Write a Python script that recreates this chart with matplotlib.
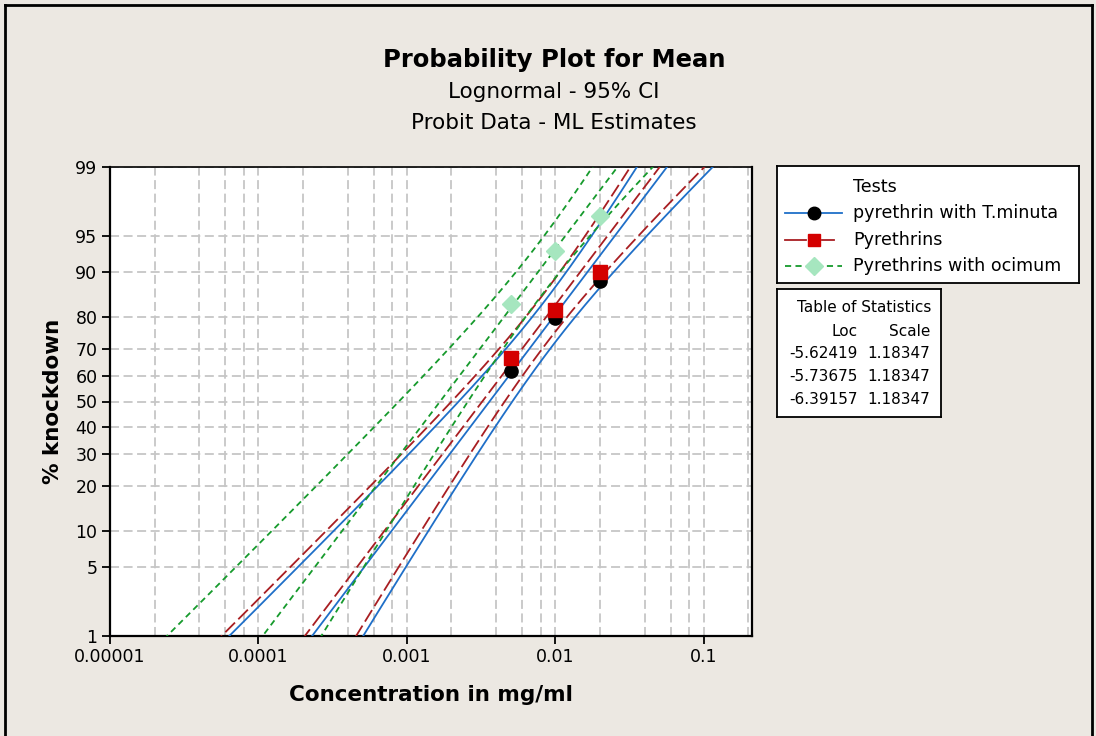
import numpy as np
import matplotlib
matplotlib.use('Agg')
import matplotlib.pyplot as plt
from matplotlib.lines import Line2D
from matplotlib.ticker import NullLocator, FixedLocator
from statistics import NormalDist

# observed knockdown (%) at each concentration (mg/ml)
conc = [0.005, 0.01, 0.02]
pct_minuta = [61.9, 79.6, 88.4]
pct_pyr = [66.7, 81.8, 90.0]
pct_ocimum = [83.3, 93.2, 96.7]

# Table of Statistics (lognormal, ln units)
locs = [-5.62419, -5.73675, -6.39157]
scales = [1.18347, 1.18347, 1.18347]
names = ['pyrethrin with T.minuta', 'Pyrethrins', 'Pyrethrins with ocimum']

# fiducial band shape (log10 units)
ci_centre = [0.0092, 0.0085, 0.0079]
ci_half = [0.140, 0.135, 0.143]
ci_g = 0.0625

yticks = [1, 5, 10, 20, 30, 40, 50, 60, 70, 80, 90, 95, 99]
xticks = [1e-5, 1e-4, 1e-3, 1e-2, 1e-1]
xticklabels = ['0.00001', '0.0001', '0.001', '0.01', '0.1']

colors = ['#1f6fc8', '#a81e22', '#169a2c']
mcol = ['black', '#d40000', '#a6e6bf']
markers = ['o', 's', 'D']
dashes = [None, (7.5, 2.6), (3.4, 2.4)]
pcts = [pct_minuta, pct_pyr, pct_ocimum]

nd = NormalDist()
_ppf = np.vectorize(nd.inv_cdf, otypes=[float])
_cdf = np.vectorize(nd.cdf, otypes=[float])


def fwd(p):
    p = np.clip(np.asarray(p, float) / 100.0, 1e-7, 1 - 1e-7)
    return _ppf(p)


def inv(z):
    return _cdf(np.asarray(z, float)) * 100.0


bg = '#ece8e2'
fig = plt.figure(figsize=(10.96, 7.36), dpi=100, facecolor=bg)
W, H = 1096.0, 736.0
ax = fig.add_axes([110 / W, 1 - 636 / H, 642 / W, 469 / H])
ax.set_facecolor('white')

z = np.linspace(-2.8, 2.8, 400)
pz = inv(z)
for i in range(3):
    loc, sc = locs[i], scales[i]
    m = (loc + sc * z) / np.log(10)
    u = m - np.log10(ci_centre[i])
    root = np.sqrt(ci_g * u ** 2 + (1 - ci_g) * ci_half[i] ** 2)
    lo = m + (ci_g * u - root) / (1 - ci_g)
    hi = m + (ci_g * u + root) / (1 - ci_g)
    kw = dict(color=colors[i], lw=1.3, zorder=3)
    for xs in (10 ** lo, 10 ** m, 10 ** hi):
        ln, = ax.plot(xs, pz, **kw)
        if dashes[i] is not None:
            ln.set_dashes(dashes[i])

for i in range(3):
    ax.plot(conc, pcts[i], ls='none', marker=markers[i], ms=9.5,
            mfc=mcol[i], mec=mcol[i], zorder=5 + i)

ax.set_xscale('log')
ax.set_yscale('function', functions=(fwd, inv))
ax.set_xlim(1e-5, 0.212)
ax.set_ylim(1, 99)
ax.yaxis.set_major_locator(FixedLocator(yticks))
ax.yaxis.set_minor_locator(NullLocator())
ax.set_yticklabels([str(t) for t in yticks])
ax.set_xticks(xticks)
ax.set_xticklabels(xticklabels)
minors = [k * 10.0 ** e for e in range(-5, 0) for k in (2, 4, 6, 8)]
ax.xaxis.set_minor_locator(FixedLocator(minors))

ax.grid(which='both', axis='x', color='#c6c6c6', lw=1.3, dashes=(5, 2.5), zorder=1)
ax.grid(which='major', axis='y', color='#c6c6c6', lw=1.3, dashes=(5, 2.5), zorder=1)
ax.set_axisbelow(True)
ax.tick_params(which='major', direction='out', length=6, width=1.3, labelsize=12.5,
               color='black', pad=3)
ax.tick_params(which='minor', length=0)
for s in ax.spines.values():
    s.set_color('black')
    s.set_linewidth(1.6)
ax.spines['top'].set_linewidth(1.2)

ax.set_xlabel('Concentration in mg/ml', fontsize=15.5, fontweight='bold', labelpad=13)
ax.set_ylabel('% knockdown', fontsize=15.5, fontweight='bold', labelpad=9)

fig.text(554 / W, 1 - 60 / H, 'Probability Plot for Mean', ha='center', va='center',
         fontsize=17.5, fontweight='bold')
fig.text(554 / W, 1 - 92 / H, 'Lognormal - 95% CI', ha='center', va='center', fontsize=15.5)
fig.text(554 / W, 1 - 123 / H, 'Probit Data - ML Estimates', ha='center', va='center',
         fontsize=15.5)

# legend box drawn in pixel coordinates
lx0, lx1, ly0, ly1 = 777, 1079, 166, 283
lax = fig.add_axes([lx0 / W, 1 - ly1 / H, (lx1 - lx0) / W, (ly1 - ly0) / H])
lax.set_xlim(lx0, lx1)
lax.set_ylim(ly1, ly0)
lax.set_xticks([])
lax.set_yticks([])
for s in lax.spines.values():
    s.set_linewidth(1.3)
lax.text(853, 187, 'Tests', va='center', ha='left', fontsize=12.6)
rows = [213, 240, 266]
seg = [[(785, 842)], [(785, 806), (822, 834)], [(785, 842)]]
for i in range(3):
    for a, b in seg[i]:
        ln, = lax.plot([a, b], [rows[i]] * 2, color=colors[i], lw=1.3)
        if i == 2:
            ln.set_dashes(dashes[i])
    lax.plot([814], [rows[i]], marker=markers[i], ms=9, mfc=mcol[i], mec=mcol[i])
    lax.text(853, rows[i], names[i], va='center', ha='left', fontsize=12.6)

# table of statistics
tx0, tx1, ty0, ty1 = 777, 941, 289, 417
tax = fig.add_axes([tx0 / W, 1 - ty1 / H, (tx1 - tx0) / W, (ty1 - ty0) / H])
tax.set_xlim(tx0, tx1)
tax.set_ylim(ty1, ty0)
tax.set_xticks([])
tax.set_yticks([])
for s in tax.spines.values():
    s.set_linewidth(1.3)
tax.text(931, 307, 'Table of Statistics', ha='right', va='center', fontsize=11)
tax.text(858, 331, 'Loc', ha='right', va='center', fontsize=11)
tax.text(930, 331, 'Scale', ha='right', va='center', fontsize=11)
trow = [354, 376.5, 399.5]
for i in range(3):
    tax.text(858, trow[i], '%.5f' % locs[i], ha='right', va='center', fontsize=11)
    tax.text(930, trow[i], '%.5f' % scales[i], ha='right', va='center', fontsize=11)

# outer frame
fig.add_artist(Line2D([5 / W, 5 / W], [0, 1 - 5 / H], color='black', lw=2))
fig.add_artist(Line2D([5 / W, 1092 / W], [1 - 5 / H, 1 - 5 / H], color='black', lw=2))
fig.add_artist(Line2D([1092 / W, 1092 / W], [1 - 5 / H, 0], color='black', lw=2))

fig.savefig('out.png', dpi=100, facecolor=bg)
